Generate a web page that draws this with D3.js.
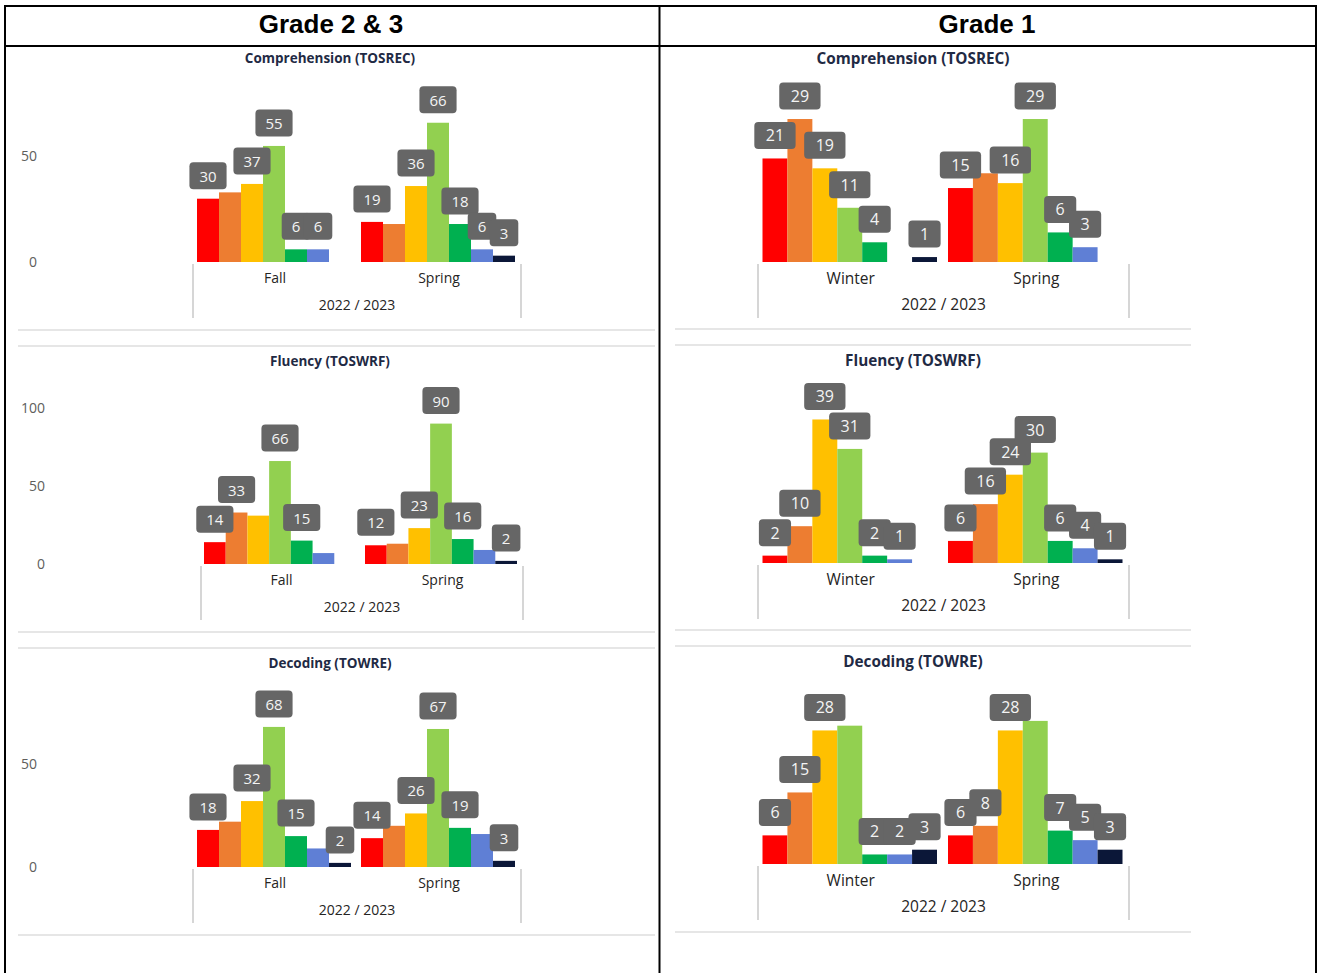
<!DOCTYPE html>
<html>
<head>
<meta charset="utf-8">
<script src="https://cdn.jsdelivr.net/npm/d3@7"></script>
<style>
  body { margin: 0; background: #fff; }
  text { font-family: "Segoe UI", "Open Sans", "Noto Sans", sans-serif; }
</style>
</head>
<body>
<div class="chart"></div>
<script>
// Set up the page
var svgWidth = 1325;
var svgHeight = 973;

// performance levels (one bar each, in order)
var levels = ["L1", "L2", "L3", "L4", "L5", "L6", "L7"];
var levelColors = ["#FF0000", "#ED7D31", "#FFC000", "#92D050", "#00B050", "#5F7FD5", "#0B1738"];

var gradeHeaders = ["Grade 2 & 3", "Grade 1"];
var testTitles = ["Comprehension (TOSREC)", "Fluency (TOSWRF)", "Decoding (TOWRE)"];
var yearLabel = "2022 / 2023";
var g23Terms = ["Fall", "Spring"];
var g1Terms = ["Winter", "Spring"];

// Grade 2 & 3 values
var g23CompFall = [30, 33, 37, 55, 6, 6, 0];
var g23CompSpring = [19, 18, 36, 66, 18, 6, 3];
var g23FluFall = [14, 33, 31, 66, 15, 7, 0];
var g23FluSpring = [12, 13, 23, 90, 16, 9, 2];
var g23DecFall = [18, 22, 32, 68, 15, 9, 2];
var g23DecSpring = [14, 20, 26, 67, 19, 16, 3];

// Grade 1 values
var g1CompWinter = [21, 29, 19, 11, 4, 0, 1];
var g1CompSpring = [15, 18, 16, 29, 6, 3, 0];
var g1FluWinter = [2, 10, 39, 31, 2, 1, 0];
var g1FluSpring = [6, 16, 24, 30, 6, 4, 1];
var g1DecWinter = [6, 15, 28, 29, 2, 2, 3];
var g1DecSpring = [6, 8, 28, 30, 7, 5, 3];

// y axis tick values (grade 2 & 3 only)
var compTicks = [0, 50];
var fluTicks = [0, 50, 100];
var decTicks = [0, 50];

// data labels the report hid because they collided (index of level)
var g23CompHidden = [[1], [1]];
var g23FluHidden = [[2, 5], [1, 5]];
var g23DecHidden = [[1, 5], [1, 5]];
var g1CompHidden = [[], [1]];
var g1FluHidden = [[], []];
var g1DecHidden = [[3], [3]];

var svg = d3.select(".chart")
    .append("svg")
    .attr("width", svgWidth)
    .attr("height", svgHeight);

// table frame
var frame = svg.append("g").attr("stroke", "#000").attr("stroke-width", 2);
frame.append("line").attr("x1", 4).attr("x2", 1317).attr("y1", 6).attr("y2", 6);
frame.append("line").attr("x1", 4).attr("x2", 1317).attr("y1", 46).attr("y2", 46);
frame.append("line").attr("x1", 5).attr("x2", 5).attr("y1", 5).attr("y2", svgHeight);
frame.append("line").attr("x1", 659.5).attr("x2", 659.5).attr("y1", 5).attr("y2", svgHeight);
frame.append("line").attr("x1", 1316).attr("x2", 1316).attr("y1", 5).attr("y2", svgHeight);

svg.selectAll(".grade-header")
    .data(gradeHeaders)
    .enter()
    .append("text")
    .attr("class", "grade-header")
    .attr("x", function (d, i) { return i === 0 ? 331 : 987; })
    .attr("y", 23.5)
    .attr("text-anchor", "middle")
    .attr("dominant-baseline", "central")
    .style("font-family", "'Liberation Sans', Arial, sans-serif")
    .attr("font-weight", "bold")
    .attr("font-size", "26px")
    .attr("fill", "#000")
    .text(function (d) { return d; });

// light separators between the pasted chart images
var sepLeft = [330, 346, 632, 648, 935];
var sepRight = [329, 345, 630, 646, 932];
svg.selectAll(".sep-l").data(sepLeft).enter().append("line")
    .attr("x1", 18).attr("x2", 655)
    .attr("y1", function (d) { return d; }).attr("y2", function (d) { return d; })
    .attr("stroke", "#e6e6e6").attr("stroke-width", 2);
svg.selectAll(".sep-r").data(sepRight).enter().append("line")
    .attr("x1", 675).attr("x2", 1191)
    .attr("y1", function (d) { return d; }).attr("y2", function (d) { return d; })
    .attr("stroke", "#e6e6e6").attr("stroke-width", 2);

function drawChart(cfg) {
    var chart = svg.append("g");

    chart.append("text")
        .attr("x", cfg.titleX)
        .attr("y", cfg.titleY)
        .attr("text-anchor", "middle")
        .attr("dominant-baseline", "central")
        .attr("font-weight", "bold")
        .attr("font-size", cfg.titleSize + "px")
        .attr("fill", "#1f2a44")
        .text(cfg.title);

    var yScale = d3.scaleLinear().domain([0, cfg.yMax]).range([cfg.baseline, cfg.top]);
    var xOuter = d3.scaleBand().domain(cfg.terms).range([cfg.left, cfg.right]);
    var xInner = d3.scaleBand().domain(levels).range([cfg.padL, xOuter.bandwidth() - cfg.padR]);

    var rows = [];
    cfg.terms.forEach(function (term, t) {
        cfg.series[t].forEach(function (v, i) {
            rows.push({ term: term, level: levels[i], color: levelColors[i], value: v,
                        hidden: cfg.hidden[t].indexOf(i) >= 0 });
        });
    });
    var drawn = rows.filter(function (d) { return d.value > 0; });

    chart.selectAll("rect.bar")
        .data(drawn)
        .enter()
        .append("rect")
        .attr("class", "bar")
        .attr("x", function (d) { return xOuter(d.term) + xInner(d.level); })
        .attr("width", xInner.bandwidth())
        .attr("y", function (d) { return yScale(d.value); })
        .attr("height", function (d) { return cfg.baseline - yScale(d.value); })
        .attr("fill", function (d) { return d.color; });

    // data labels in grey boxes
    var labels = chart.selectAll("g.lbl")
        .data(drawn.filter(function (d) { return !d.hidden; }))
        .enter()
        .append("g")
        .attr("class", "lbl")
        .attr("transform", function (d) {
            var cx = xOuter(d.term) + xInner(d.level) + xInner.bandwidth() / 2;
            return "translate(" + cx + "," + (yScale(d.value) - 9.5 - 13.5) + ")";
        });
    labels.each(function (d) {
        var g = d3.select(this);
        var txt = g.append("text")
            .attr("text-anchor", "middle")
            .attr("dominant-baseline", "central")
            .attr("font-size", cfg.labelSize + "px")
            .attr("fill", "#f4f4f4")
            .text(d.value);
        var w = txt.node().getComputedTextLength() + 2 * cfg.boxPad;
        g.insert("rect", "text")
            .attr("x", -w / 2)
            .attr("y", -13.5)
            .attr("width", w)
            .attr("height", 27)
            .attr("rx", 4)
            .attr("fill", "#666666");
    });

    // y axis
    if (cfg.ticks) {
        var yAxis = d3.axisLeft(yScale).tickValues(cfg.ticks).tickSize(0).tickPadding(0);
        var ya = chart.append("g")
            .attr("transform", "translate(" + cfg.tickRight + ",0)")
            .call(yAxis);
        ya.select(".domain").remove();
        ya.selectAll("text")
            .attr("font-size", "14px")
            .attr("fill", "#605E5C")
            .style("font-family", "'Segoe UI', 'Open Sans', sans-serif");
    }

    // category axis
    var xAxis = d3.axisBottom(xOuter).tickSize(0);
    var xa = chart.append("g")
        .attr("transform", "translate(0," + cfg.baseline + ")")
        .call(xAxis);
    xa.select(".domain").remove();
    xa.selectAll("text")
        .attr("y", 16.5)
        .attr("dy", "0.35em")
        .attr("font-size", cfg.catSize + "px")
        .attr("fill", "#252423")
        .style("font-family", "'Segoe UI', 'Open Sans', sans-serif");

    chart.append("text")
        .attr("x", (cfg.left + cfg.right) / 2)
        .attr("y", cfg.baseline + 42)
        .attr("text-anchor", "middle")
        .attr("dominant-baseline", "central")
        .attr("font-size", cfg.catSize + "px")
        .attr("fill", "#252423")
        .text(yearLabel);

    chart.selectAll("line.hier")
        .data([cfg.left, cfg.right])
        .enter()
        .append("line")
        .attr("class", "hier")
        .attr("x1", function (d) { return d; })
        .attr("x2", function (d) { return d; })
        .attr("y1", cfg.baseline + 2)
        .attr("y2", cfg.baseline + 56)
        .attr("stroke", "#c8c8c8")
        .attr("stroke-width", 1.5);
}

// Grade 2 & 3 column
var g23Text = { titleSize: 13.5, catSize: 14, labelSize: 15, boxPad: 10 };
var g1Text = { titleSize: 15.3, catSize: 15.5, labelSize: 16, boxPad: 11.5 };

drawChart(Object.assign({ title: testTitles[0], titleX: 330, titleY: 58, terms: g23Terms,
    series: [g23CompFall, g23CompSpring], hidden: g23CompHidden,
    yMax: 80, baseline: 262, top: 93.2, left: 193, right: 521, padL: 4, padR: 6,
    ticks: compTicks, tickRight: 37 }, g23Text));
drawChart(Object.assign({ title: testTitles[1], titleX: 330, titleY: 361, terms: g23Terms,
    series: [g23FluFall, g23FluSpring], hidden: g23FluHidden,
    yMax: 100, baseline: 564, top: 408, left: 201, right: 523, padL: 3, padR: 6,
    ticks: fluTicks, tickRight: 45 }, g23Text));
drawChart(Object.assign({ title: testTitles[2], titleX: 330, titleY: 663, terms: g23Terms,
    series: [g23DecFall, g23DecSpring], hidden: g23DecHidden,
    yMax: 80, baseline: 867, top: 702.2, left: 193, right: 521, padL: 4, padR: 6,
    ticks: decTicks, tickRight: 37 }, g23Text));

// Grade 1 column
drawChart(Object.assign({ title: testTitles[0], titleX: 913, titleY: 58, terms: g1Terms,
    series: [g1CompWinter, g1CompSpring], hidden: g1CompHidden,
    yMax: 30, baseline: 262, top: 114.1, left: 758, right: 1129, padL: 4.5, padR: 6.5,
    ticks: null }, g1Text));
drawChart(Object.assign({ title: testTitles[1], titleX: 913, titleY: 360, terms: g1Terms,
    series: [g1FluWinter, g1FluSpring], hidden: g1FluHidden,
    yMax: 40, baseline: 563, top: 415.8, left: 758, right: 1129, padL: 4.5, padR: 6.5,
    ticks: null }, g1Text));
drawChart(Object.assign({ title: testTitles[2], titleX: 913, titleY: 661, terms: g1Terms,
    series: [g1DecWinter, g1DecSpring], hidden: g1DecHidden,
    yMax: 30, baseline: 864, top: 720.9, left: 758, right: 1129, padL: 4.5, padR: 6.5,
    ticks: null }, g1Text));
</script>
</body>
</html>
